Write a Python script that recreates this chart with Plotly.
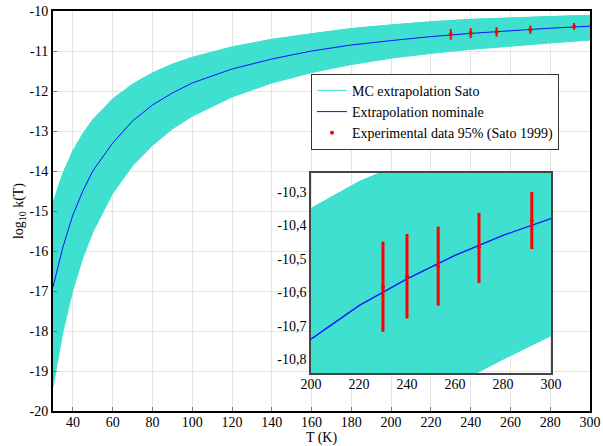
import plotly.graph_objects as go

# ---- data ----
T = [30, 35, 40, 45, 50, 60, 70, 80, 90, 100, 120, 140, 160, 180, 200, 220, 240, 260, 280, 300]
nominal = [-16.9, -15.9, -15.1, -14.5, -14.0, -13.3, -12.75, -12.35, -12.05, -11.8,
           -11.45, -11.2, -11.0, -10.85, -10.74, -10.64, -10.56, -10.49, -10.43, -10.38]
mc_upper = [-14.8, -14.06, -13.5, -13.07, -12.72, -12.2, -11.83, -11.55, -11.33, -11.16,
            -10.9, -10.71, -10.57, -10.44, -10.35, -10.27, -10.21, -10.17, -10.14, -10.11]
mc_lower = [-19.4, -18.02, -16.98, -16.17, -15.53, -14.56, -13.87, -13.36, -12.95, -12.63,
            -12.15, -11.8, -11.54, -11.34, -11.18, -11.06, -10.96, -10.875, -10.8, -10.73]

exp_T = [230, 240, 253, 270, 292]
exp_val = [-10.584, -10.552, -10.522, -10.466, -10.387]
exp_hi = [-10.449, -10.426, -10.404, -10.363, -10.301]
exp_lo = [-10.718, -10.678, -10.640, -10.572, -10.471]

main_xticks = [40, 60, 80, 100, 120, 140, 160, 180, 200, 220, 240, 260, 280, 300]
main_yticks = [-20, -19, -18, -17, -16, -15, -14, -13, -12, -11, -10]
main_ylabels = ["-20", "-19", "-18", "-17", "-16", "-15", "-14", "-13", "-12", "-11", "-10"]
inset_xticks = [200, 220, 240, 260, 280, 300]
inset_yticks = [-10.8, -10.7, -10.6, -10.5, -10.4, -10.3]
inset_ylabels = ["-10,8", "-10,7", "-10,6", "-10,5", "-10,4", "-10,3"]

CYAN = "#40E0D0"
BLUE = "#1010ff"
RED = "#ff0000"
FONT = "Liberation Serif, Times New Roman, Times, serif"

err_plus = [h - v for h, v in zip(exp_hi, exp_val)]
err_minus = [v - l for l, v in zip(exp_lo, exp_val)]

band_x = T + T[::-1]
band_y = mc_upper + mc_lower[::-1]

fig = go.Figure()

for ax, show in (("", True), ("2", False)):
    xa = "x" + ax
    ya = "y" + ax
    fig.add_trace(go.Scatter(x=band_x, y=band_y, fill="toself", fillcolor=CYAN,
                             mode="lines", line=dict(color=CYAN, width=1),
                             showlegend=False, hoverinfo="skip", xaxis=xa, yaxis=ya))
    fig.add_trace(go.Scatter(x=T, y=mc_upper, mode="lines", line=dict(color=CYAN, width=1),
                             name="MC extrapolation Sato", showlegend=show, xaxis=xa, yaxis=ya))
    fig.add_trace(go.Scatter(x=T, y=nominal, mode="lines",
                             line=dict(color=BLUE, width=1 if ax == "" else 1.3),
                             name="Extrapolation nominale", showlegend=show, xaxis=xa, yaxis=ya))
    fig.add_trace(go.Scatter(x=exp_T, y=exp_val, mode="markers",
                             marker=dict(color=RED, size=4),
                             error_y=dict(type="data", symmetric=False, array=err_plus,
                                          arrayminus=err_minus, color=RED,
                                          thickness=2 if ax == "" else 3, width=0),
                             name="Experimental data 95% (Sato 1999)", showlegend=show,
                             xaxis=xa, yaxis=ya))

tickfont = dict(family=FONT, size=14, color="black")

fig.update_layout(
    width=603, height=446,
    margin=dict(l=53, r=13, t=11, b=35, autoexpand=False),
    paper_bgcolor="white",
    plot_bgcolor="rgba(0,0,0,0)",
    font=dict(family=FONT, size=14, color="black"),
    xaxis=dict(domain=[0, 1], range=[30, 300], tickvals=main_xticks, showgrid=True,
               gridcolor="#e4e4e4", gridwidth=1, zeroline=False, showline=True,
               linecolor="black", linewidth=2, mirror=True, ticks="inside", ticklen=4,
               tickcolor="#777", tickfont=tickfont, automargin=False,
               ticklabelstandoff=-3,
               title=dict(text="T (K)", font=tickfont, standoff=1)),
    yaxis=dict(domain=[0, 1], range=[-20, -10], tickvals=main_yticks, ticktext=main_ylabels,
               showgrid=True, gridcolor="#e4e4e4", gridwidth=1, zeroline=False,
               showline=True, linecolor="black", linewidth=2, mirror=True,
               ticks="inside", ticklen=4, tickcolor="#777", tickfont=tickfont,
               automargin=False,
               title=dict(text="log<sub>10</sub> k(T)", font=tickfont, standoff=3)),
    xaxis2=dict(domain=[0.4804, 0.9274], anchor="y2", range=[200, 300],
                tickvals=inset_xticks, showgrid=False, zeroline=False, showline=True,
                linecolor="#444", linewidth=1.5, mirror=True, ticks="", tickfont=tickfont,
                automargin=False, ticklabelstandoff=-3),
    yaxis2=dict(domain=[0.095, 0.595], anchor="x2", range=[-10.841, -10.244],
                tickvals=inset_yticks, ticktext=inset_ylabels, showgrid=False,
                zeroline=False, showline=True, linecolor="#444", linewidth=1.5,
                mirror=True, ticks="", tickfont=tickfont, automargin=False),
    legend=dict(x=0.4804, y=0.843, xanchor="left", yanchor="top",
                bgcolor="white", bordercolor="#333", borderwidth=1,
                font=dict(family=FONT, size=14, color="black"),
                tracegroupgap=0, itemwidth=30),
    showlegend=True,
)

fig.write_html("out.html")
